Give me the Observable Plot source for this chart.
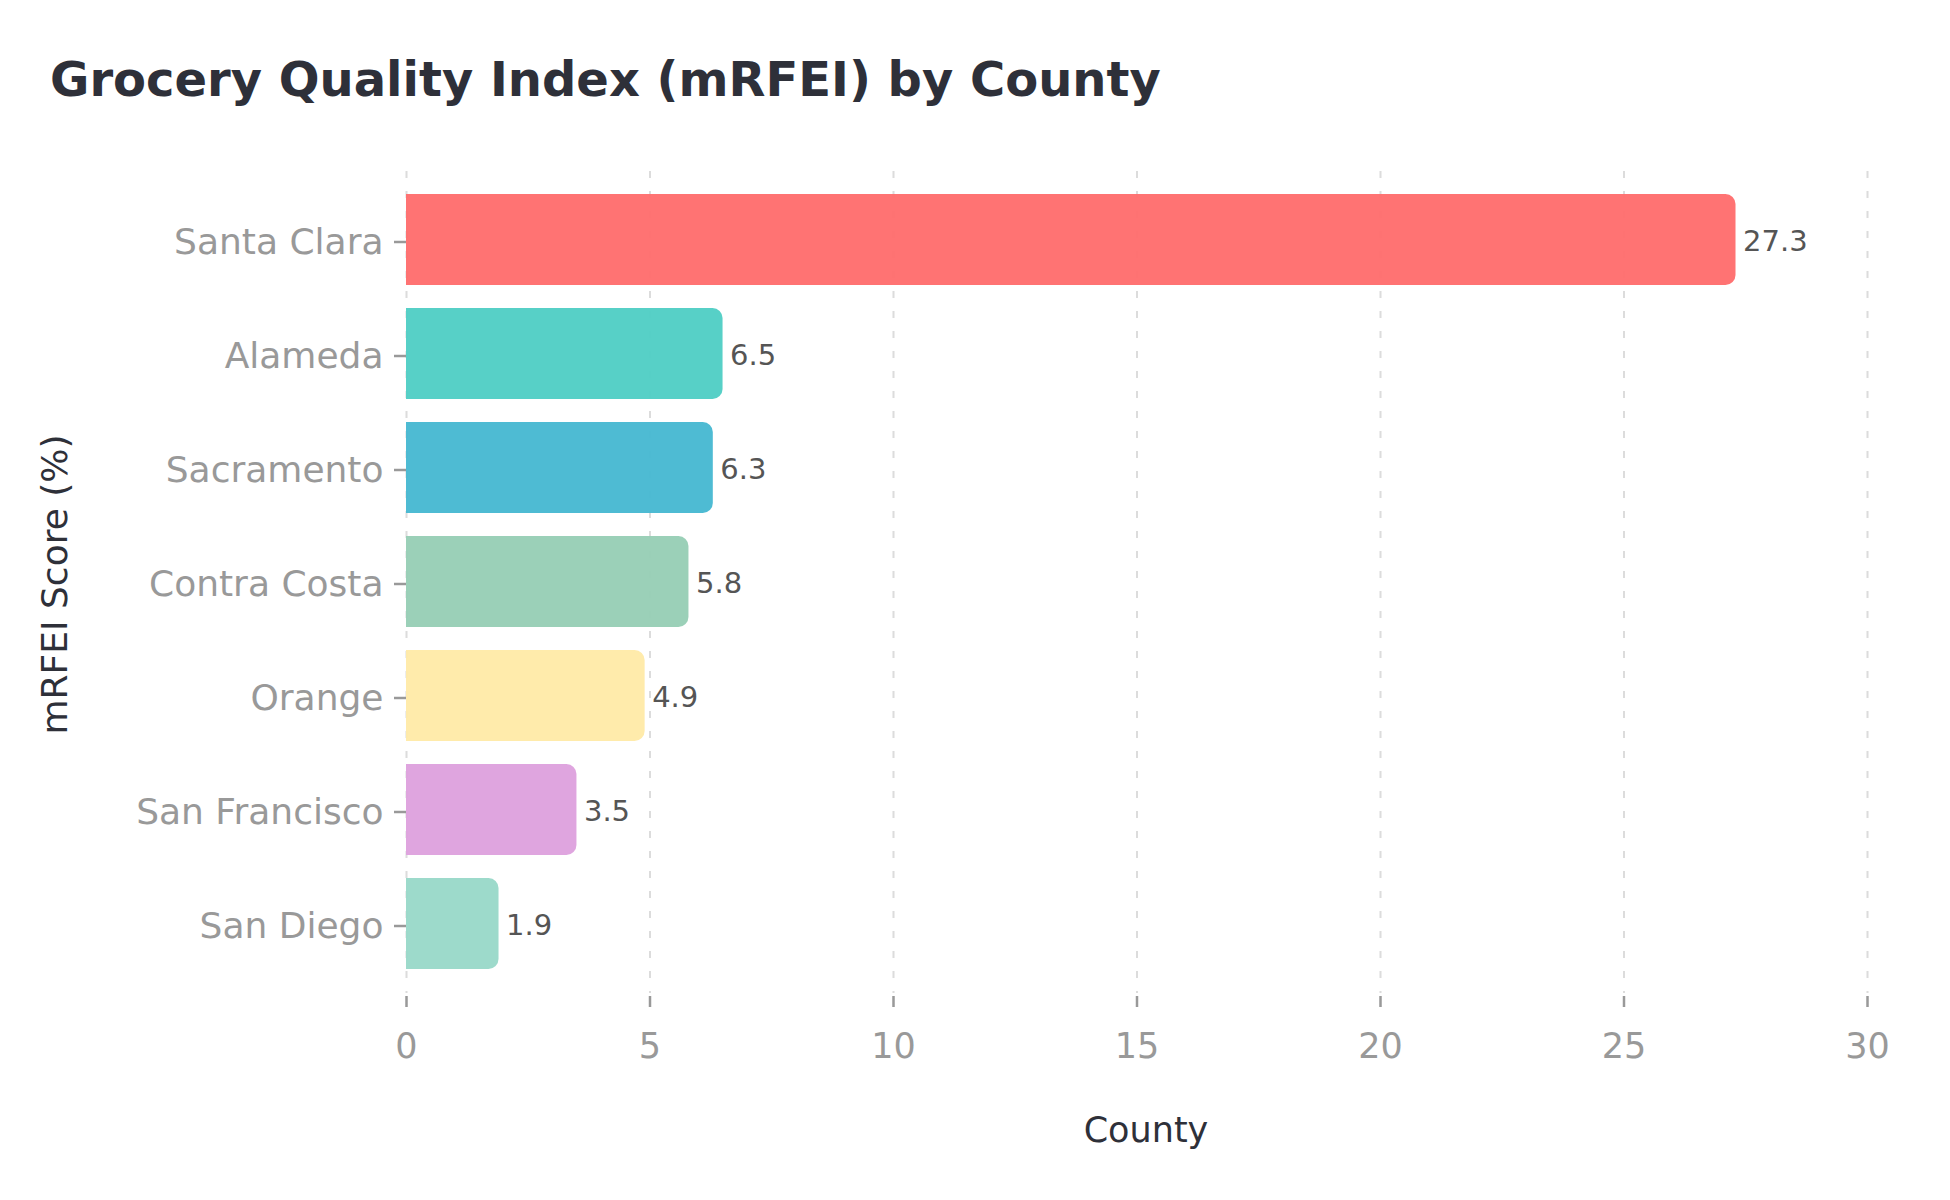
<!DOCTYPE html>
<html>
<head>
<meta charset="utf-8">
<script src="https://cdn.jsdelivr.net/npm/d3@7"></script>
<script src="https://cdn.jsdelivr.net/npm/@observablehq/plot@0.6"></script>
<style>
  html, body { margin: 0; padding: 0; background: #ffffff; }
  #wrap { width: 1950px; height: 1200px; position: relative; }
  #title {
    box-sizing: border-box;
    height: 130px;
    padding: 55px 0 0 50px;
    font: bold 48px "DejaVu Sans";
    line-height: 48px;
    color: #2e3039;
    white-space: nowrap;
  }
</style>
</head>
<body>
<div id="wrap">
  <div id="title">Grocery Quality Index (mRFEI) by County</div>
  <div id="chart"></div>
</div>
<script>
const counties = ["Santa Clara", "Alameda", "Sacramento", "Contra Costa", "Orange", "San Francisco", "San Diego"];
const scores = [27.3, 6.5, 6.3, 5.8, 4.9, 3.5, 1.9];
const colors = ["#FF6B6B", "#4ECDC4", "#45B7D1", "#96CEB4", "#FFEAA7", "#DDA0DD", "#98D8C8"];
const xTicks = [0, 5, 10, 15, 20, 25, 30];
const xTitle = "County";
const yTitle = "mRFEI Score (%)";

const data = counties.map((c, i) => ({county: c, score: scores[i], color: colors[i]}));

const chart = Plot.plot({
  width: 1950,
  height: 1070,
  marginLeft: 406,
  marginRight: 83,
  marginTop: 41,
  marginBottom: 207,
  style: {fontFamily: "DejaVu Sans", background: "#ffffff"},
  x: {domain: [0, 30]},
  y: {domain: counties, padding: 0.2},
  marks: [
    Plot.gridX(xTicks, {stroke: "#dcdcdc", strokeOpacity: 1, strokeWidth: 2, strokeDasharray: "7,13"}),
    Plot.barX(data, {x: "score", y: "county", fill: "color", fillOpacity: 0.95, rx2: 10}),
    Plot.text(data, {x: "score", y: "county", text: d => d.score.toFixed(1), dx: 7, dy: 2, textAnchor: "start", fontSize: 29, fill: "#555555"}),
    Plot.axisY({tickSize: 12, tickPadding: 11, dy: 2, fontSize: 36, color: "#999999", strokeWidth: 2.5, label: null}),
    Plot.axisX({ticks: xTicks, tickSize: 11, tickPadding: 26, dy: 3, fontSize: 35, color: "#999999", strokeWidth: 2.5, label: null}),
    Plot.text([xTitle], {frameAnchor: "bottom", dy: 148, dx: 9, lineAnchor: "bottom", fontSize: 35, fill: "#2e3039"}),
    Plot.text([yTitle], {frameAnchor: "left", dx: -340, dy: 2, rotate: -90, textAnchor: "middle", lineAnchor: "bottom", fontSize: 36, fill: "#2e3039"})
  ]
});
document.getElementById("chart").appendChild(chart);
</script>
</body>
</html>
